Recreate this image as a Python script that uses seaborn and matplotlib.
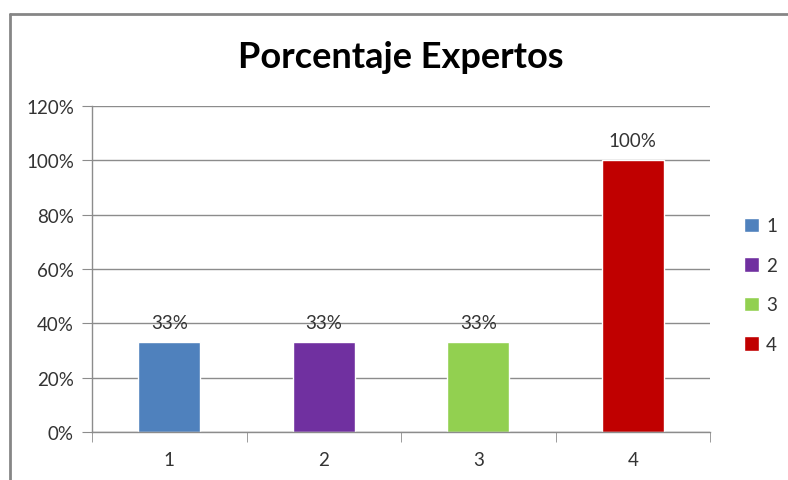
import matplotlib
matplotlib.use('Agg')
import matplotlib.pyplot as plt
import matplotlib.ticker as mticker
from matplotlib.lines import Line2D
import seaborn as sns
import pandas as pd

categories = ['1', '2', '3', '4']
values = [33, 33, 33, 100]
labels = ['33%', '33%', '33%', '100%']
colors = ['#4F81BD', '#7030A0', '#92D050', '#C00000']

df = pd.DataFrame({'cat': categories, 'val': values})

sns.set_style('white')
plt.rcParams['font.family'] = ['Lato', 'DejaVu Sans']

fig = plt.figure(figsize=(7.88, 4.81), dpi=100)
ax = fig.add_axes([92/788, 48/481, 618/788, 326/481])

sns.barplot(data=df, x='cat', y='val', hue='cat', palette=colors, width=0.4,
            dodge=False, legend=True, ax=ax, saturation=1)

for cont, lab in zip(ax.containers, labels):
    ax.bar_label(cont, labels=[lab], padding=8, fontsize=13.5, color='#333333')

ax.set_ylim(0, 120)
ax.set_xlim(-0.5, 3.5)
ax.yaxis.set_major_locator(mticker.MultipleLocator(20))
ax.yaxis.set_major_formatter(mticker.FuncFormatter(lambda v, p: f'{v:.0f}%'))
ax.yaxis.grid(True, color='#8c8c8c', linewidth=1)
ax.set_axisbelow(True)
ax.set_xlabel('')
ax.set_ylabel('')

for s in ['top', 'right']:
    ax.spines[s].set_visible(False)
for s in ['left', 'bottom']:
    ax.spines[s].set_color('#8c8c8c')
    ax.spines[s].set_linewidth(1)

ax.tick_params(axis='y', length=7, color='#8c8c8c', labelsize=13.5, labelcolor='#333333', pad=6, left=True)
ax.tick_params(axis='x', which='major', length=0, labelsize=13.5, labelcolor='#333333', pad=14)
ax.set_xticks([-0.5, 0.5, 1.5, 2.5, 3.5], minor=True)
ax.tick_params(axis='x', which='minor', length=7, color='#8c8c8c', bottom=True)

ax.legend(loc='upper left', bbox_to_anchor=(1.027, 0.71), frameon=False,
          handlelength=0.8, handleheight=0.8, handletextpad=0.4,
          labelspacing=1.2, fontsize=13.5, labelcolor='#333333')

fig.text(401/788, 1 - 58/481, 'Porcentaje Expertos', ha='center', va='center',
         fontsize=26, fontweight='bold', color='black')

# outer chart border (left and top edges visible)
fig.add_artist(Line2D([10/788, 10/788], [0, 1 - 15/481], transform=fig.transFigure,
                      color='#868686', linewidth=2))
fig.add_artist(Line2D([10/788, 1], [1 - 15/481, 1 - 15/481], transform=fig.transFigure,
                      color='#868686', linewidth=2))

plt.savefig('out.png', dpi=100)
